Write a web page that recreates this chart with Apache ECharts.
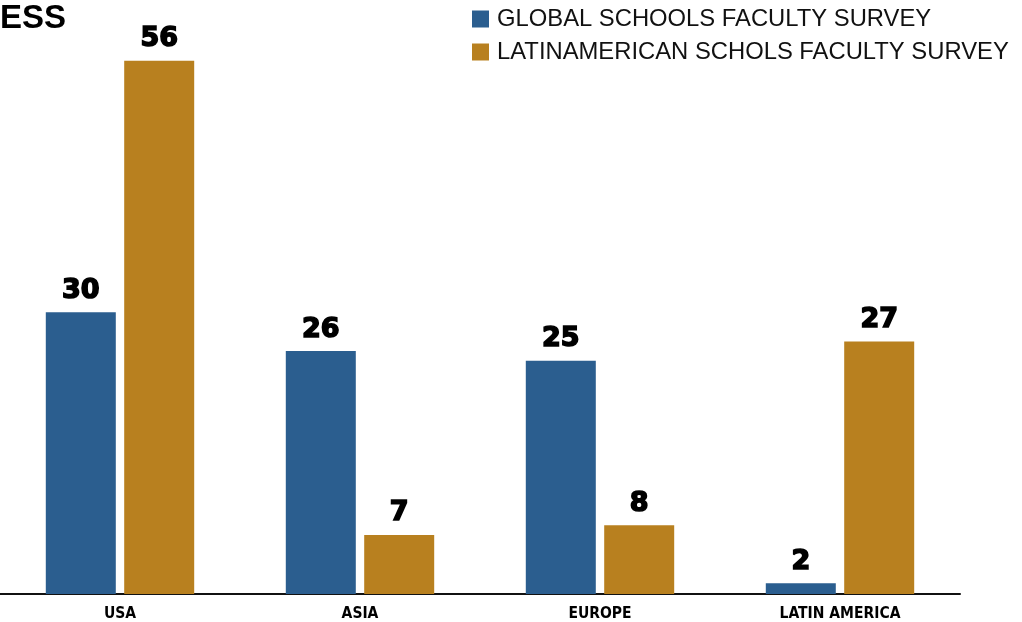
<!DOCTYPE html>
<html>
<head>
<meta charset="utf-8">
<script src="https://cdn.jsdelivr.net/npm/echarts@6/dist/echarts.min.js"></script>
<style>
  html, body { margin: 0; padding: 0; background: #fff; }
  #main { width: 1022px; height: 622px; }
</style>
</head>
<body>
<div id="main"></div>
<script>
const regions = ['USA', 'ASIA', 'EUROPE', 'LATIN AMERICA'];
const globalSurvey = [30, 26, 25, 2];
const latamSurvey = [56, 7, 8, 27];
const seriesNames = ['GLOBAL SCHOOLS FACULTY SURVEY', 'LATINAMERICAN SCHOLS FACULTY SURVEY'];
const colors = ['#2B5E8F', '#B8801F'];

const chart = echarts.init(document.getElementById('main'));

// heavy value labels above the bars
const labelStyle = {
  show: true,
  position: 'top',
  distance: 8,
  color: '#000',
  fontFamily: 'DejaVu Sans',
  fontWeight: 'bold',
  fontSize: 27,
  textBorderColor: '#000',
  textBorderWidth: 1.6,
};

chart.setOption({
  animation: false,
  title: {
    text: 'ESS',
    left: 0,
    top: 2,
    padding: 0,
    textStyle: {
      fontFamily: 'Liberation Sans',
      fontWeight: 'bold',
      fontSize: 33,
      color: '#000',
    },
  },
  legend: {
    orient: 'vertical',
    left: 472,
    top: 7,
    padding: 0,
    itemWidth: 17,
    itemHeight: 17,
    itemGap: 9,
    icon: 'rect',
    textStyle: {
      fontFamily: 'Liberation Sans',
      fontSize: 23.8,
      lineHeight: 22,
      color: '#111',
      padding: [0, 0, 0, 3],
    },
    data: seriesNames,
  },
  grid: {
    left: 0,
    right: 62,
    top: 22,
    bottom: 28,
    containLabel: false,
  },
  xAxis: {
    type: 'category',
    data: regions,
    axisTick: { show: false },
    axisLine: { lineStyle: { color: '#111', width: 2 } },
    axisLabel: {
      color: '#000',
      fontFamily: 'DejaVu Sans Condensed',
      fontWeight: 'bold',
      fontSize: 15.5,
      margin: 12,
    },
  },
  yAxis: {
    type: 'value',
    min: 0.9,
    max: 60,
    show: false,
    splitLine: { show: false },
  },
  series: [
    {
      name: seriesNames[0],
      type: 'bar',
      data: globalSurvey,
      barWidth: 70,
      barGap: '12%',
      itemStyle: { color: colors[0] },
      label: labelStyle,
    },
    {
      name: seriesNames[1],
      type: 'bar',
      data: latamSurvey,
      barWidth: 70,
      itemStyle: { color: colors[1] },
      label: labelStyle,
    },
  ],
});
</script>
</body>
</html>
